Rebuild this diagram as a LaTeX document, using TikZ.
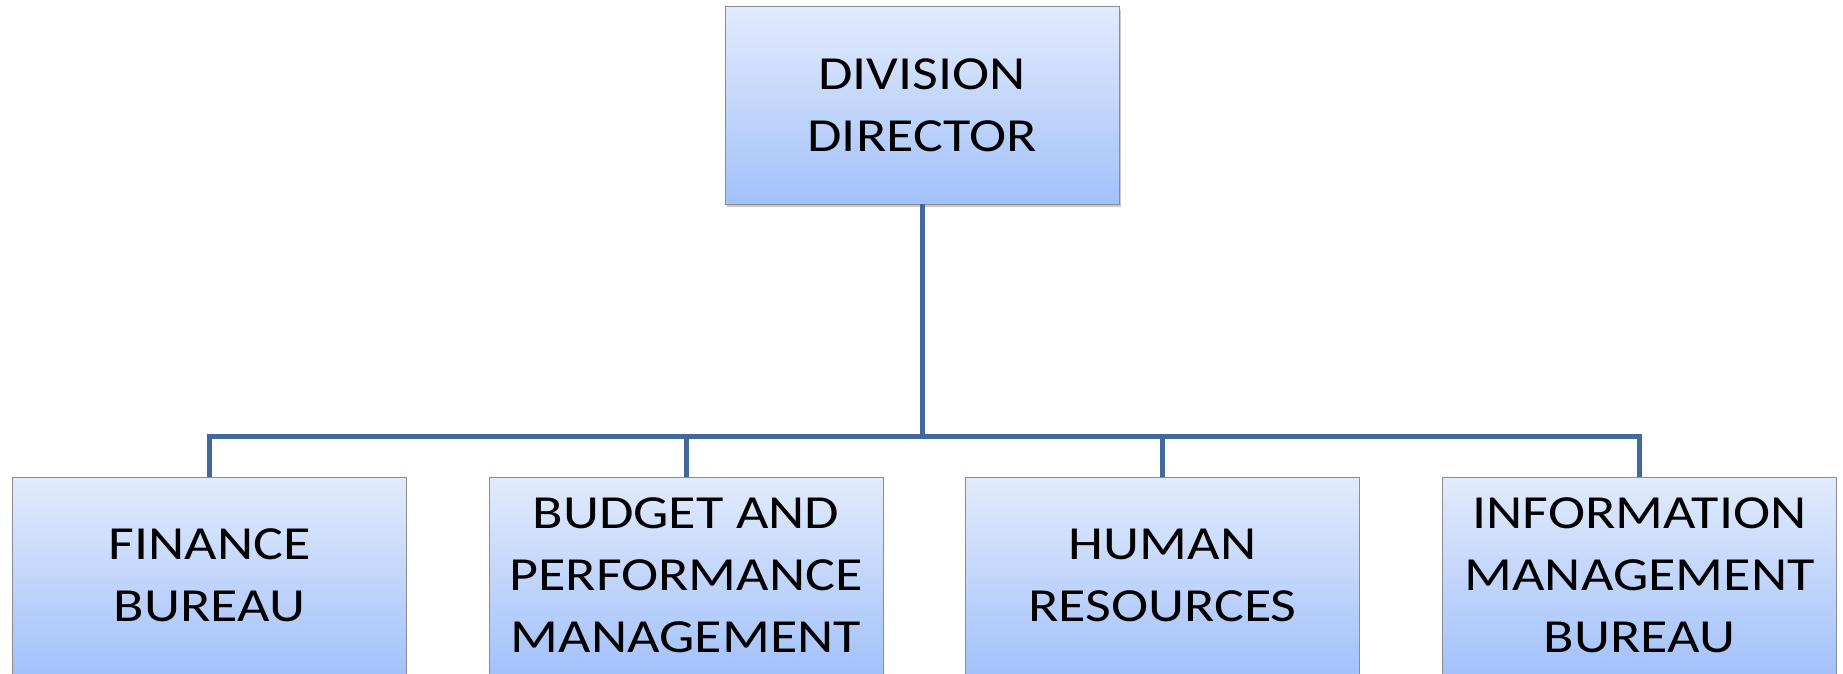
\documentclass[tikz,border=0pt]{standalone}
\usepackage{fontspec}
\newfontfamily\boxfont[FakeStretch=1.18]{Carlito}
\usetikzlibrary{shadows}
\definecolor{boxtop}{RGB}{226,235,252}
\definecolor{boxbot}{RGB}{163,193,250}
\definecolor{linkc}{RGB}{65,105,154}
\definecolor{boxedge}{RGB}{140,140,140}
\tikzset{
  unitbox/.style={draw=boxedge, line width=1pt, top color=boxtop, bottom color=boxbot,
    minimum width=394pt, minimum height=197pt, inner sep=0pt, outer sep=0pt,
    align=center, font=\boxfont\fontsize{47.5}{62}\selectfont},
  topbox/.style={unitbox, drop shadow={shadow xshift=2pt, shadow yshift=-3pt, opacity=0.35, fill=black!60}},
  link/.style={draw=linkc, line width=5pt}
}
\begin{document}
\begin{tikzpicture}[x=1pt,y=-1pt]
\useasboundingbox (0,0) rectangle (1843,674);
\node[topbox] (top) at (922,105.5) {DIVISION\\DIRECTOR};
\node[unitbox] (fin) at (209.5,575.5) {FINANCE\\BUREAU};
\node[unitbox] (bud) at (686,575.5) {BUDGET AND\\PERFORMANCE\\MANAGEMENT};
\node[unitbox] (hum) at (1162.5,575.5) {HUMAN\\RESOURCES};
\node[unitbox] (inf) at (1639.5,575.5) {INFORMATION\\MANAGEMENT\\BUREAU};
\coordinate (bus) at (922,436);
\draw[link] (top.south) -- (bus);
\draw[link] (fin.north) |- (bus) -| (inf.north);
\draw[link] (bud.north) -- (bud.north |- bus);
\draw[link] (hum.north) -- (hum.north |- bus);
\end{tikzpicture}
\end{document}
